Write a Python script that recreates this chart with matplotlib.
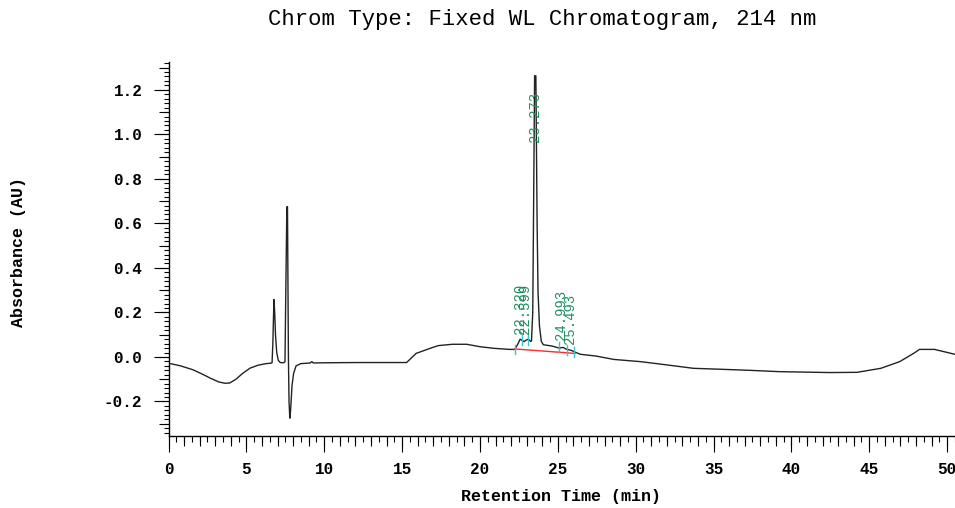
import numpy as np
import matplotlib
matplotlib.use('Agg')
import matplotlib.pyplot as plt
from matplotlib.ticker import MultipleLocator, FormatStrFormatter

plt.rcParams['font.family'] = ['Liberation Mono', 'DejaVu Sans Mono']
plt.rcParams['axes.unicode_minus'] = False

# trace: retention time (min), absorbance (AU)
time = [0.0, 0.78, 1.59, 2.20, 2.71, 3.22, 3.62, 3.93, 4.33, 4.74, 5.24,
        5.75, 6.26, 6.56,
        6.65, 6.70, 6.77, 6.82, 6.87, 6.95, 7.05, 7.17, 7.38, 7.48,
        7.52, 7.60, 7.64, 7.70, 7.74, 7.79, 7.84, 7.93, 8.03, 8.19, 8.49,
        9.10, 9.20, 9.30, 10.12, 12.15, 14.18, 15.29, 15.90, 16.81, 17.32,
        18.23, 19.15,
        20.01, 20.87, 21.89, 22.24, 22.45, 22.58, 22.70, 22.83, 22.95, 23.10,
        23.26, 23.31, 23.39, 23.43, 23.51, 23.59, 23.67, 23.73, 23.82, 23.94,
        24.07, 24.63, 25.08, 25.34, 25.54, 25.85, 26.10, 26.45, 27.47, 28.59,
        30.31,
        32.04, 33.71, 35.38, 37.31, 39.24, 42.49, 44.21, 45.74, 46.95, 47.87,
        48.22,
        49.19, 50.50, 51.72]
absorb = [-0.028, -0.040, -0.058, -0.078, -0.096, -0.112, -0.118, -0.117,
          -0.100, -0.075, -0.050, -0.037, -0.030, -0.028,
          -0.026, 0.06, 0.258, 0.20, 0.10, 0.02, -0.015, -0.025, -0.026,
          -0.022,
          0.22, 0.675, 0.675, 0.0, -0.200, -0.275, -0.240, -0.130, -0.075,
          -0.040, -0.030,
          -0.027, -0.021, -0.027, -0.026, -0.025, -0.025, -0.025, 0.016,
          0.039, 0.051, 0.057, 0.057,
          0.046, 0.039, 0.034, 0.034, 0.060, 0.080, 0.075, 0.069, 0.075,
          0.080,
          0.070, 0.072, 0.20, 0.54, 1.263, 1.263, 0.60, 0.29, 0.14, 0.07,
          0.055, 0.049, 0.040, 0.043, 0.035, 0.030, 0.022, 0.012, 0.004,
          -0.011, -0.021,
          -0.036, -0.051, -0.055, -0.060, -0.066, -0.070, -0.069, -0.051,
          -0.021, 0.017, 0.034,
          0.034, 0.012, -0.005]

# integration baseline and peak markers
base_t = [22.24, 26.10]
base_y = [0.036, 0.016]
mark_t = [22.24, 22.70, 23.08, 25.08, 25.62, 26.07]
mark_y = [0.034, 0.078, 0.078, 0.044, 0.030, 0.024]

peak_names = ['22.320', '22.599', '23.273', '24.993', '25.493']
peak_t = [22.58, 22.92, 23.54, 25.20, 25.76]
peak_y = [0.215, 0.215, 1.08, 0.19, 0.17]

fig = plt.figure(figsize=(9.55, 5.08), dpi=100)
ax = fig.add_axes([168.5 / 955, 72 / 508, 802 / 955, 374 / 508])

ax.plot(time, absorb, color='#222222', lw=1.0, zorder=3)
ax.plot(base_t, base_y, color='#ff2a2a', lw=1.0, zorder=4)
for t, y in zip(mark_t, mark_y):
    ax.plot([t, t], [y - 0.022, y + 0.022], color='#35c4d4', lw=1.0, zorder=5)
for name, t, y in zip(peak_names, peak_t, peak_y):
    ax.text(t, y, name, rotation=90, ha='center', va='center',
            color='#1f8f5f', fontsize=10, zorder=6)

ax.set_xlim(0, 51.5)
ax.set_ylim(-0.355, 1.325)

for s in ['top', 'right']:
    ax.spines[s].set_visible(False)
for s in ['left', 'bottom']:
    ax.spines[s].set_linewidth(1.0)

ax.xaxis.set_major_locator(MultipleLocator(5))
ax.xaxis.set_minor_locator(MultipleLocator(0.5))
ax.yaxis.set_major_locator(MultipleLocator(0.2))
ax.yaxis.set_minor_locator(MultipleLocator(0.02))
ax.yaxis.set_major_formatter(FormatStrFormatter('%.1f'))
ax.xaxis.set_major_formatter(FormatStrFormatter('%d'))

ax.tick_params(axis='x', which='major', length=11.5, width=0.8, pad=7,
               labelsize=11.5)
ax.tick_params(axis='x', which='minor', length=4.3, width=0.8)
ax.tick_params(axis='y', which='major', length=10.8, width=0.8, pad=8,
               labelsize=11.5)
ax.tick_params(axis='y', which='minor', length=3.6, width=0.8)
for lab in ax.get_xticklabels() + ax.get_yticklabels():
    lab.set_fontweight('bold')

# medium ticks: every minute and every 0.1 AU
secx = ax.secondary_xaxis('bottom')
secx.xaxis.set_major_locator(MultipleLocator(1))
secx.tick_params(length=7.2, width=0.8, labelbottom=False)
secx.spines['bottom'].set_visible(False)
secy = ax.secondary_yaxis('left')
secy.yaxis.set_major_locator(MultipleLocator(0.1))
secy.tick_params(length=7.2, width=0.8, labelleft=False)
secy.spines['left'].set_visible(False)

fig.text(561 / 955, 1 - 497 / 508, 'Retention Time (min)', ha='center',
         va='center', fontsize=12, fontweight='bold')
fig.text(18 / 955, 1 - 252 / 508, 'Absorbance (AU)', ha='center',
         va='center', rotation=90, fontsize=12, fontweight='bold')
fig.text(542 / 955, 1 - 20 / 508, 'Chrom Type: Fixed WL Chromatogram, 214 nm',
         ha='center', va='center', fontsize=16)

fig.savefig('out.png', dpi=100)
